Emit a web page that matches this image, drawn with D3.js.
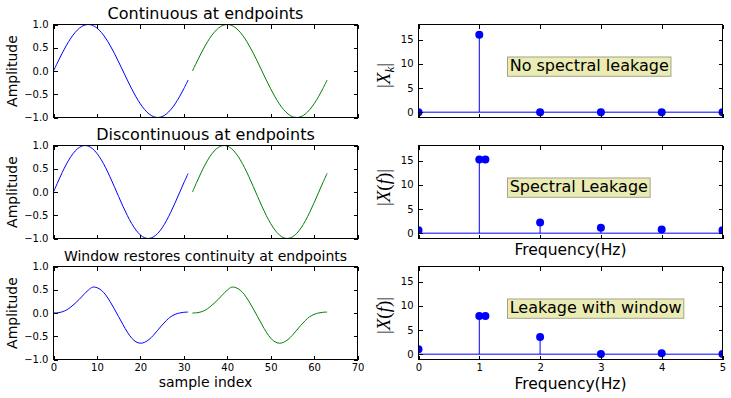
<!DOCTYPE html>
<html><head><meta charset="utf-8">
<script src="https://cdn.jsdelivr.net/npm/d3@7"></script>
<style>body{margin:0;background:#fff} svg{display:block}</style>
</head><body><svg id="c" width="731" height="398"></svg>
<script>
// ---------- data ----------
const sampleIdx = d3.range(32);          // sample index 0..31
const copyShift = 32;                    // second (green) copy starts at sample 32
const continuous = [0,0.195,0.383,0.556,0.707,0.831,0.924,0.981,1,0.981,0.924,0.831,0.707,0.556,0.383,0.195,
  0,-0.195,-0.383,-0.556,-0.707,-0.831,-0.924,-0.981,-1,-0.981,-0.924,-0.831,-0.707,-0.556,-0.383,-0.195];
const discontinuous = [0,0.214,0.419,0.604,0.761,0.882,0.962,0.998,0.988,0.931,0.831,0.693,0.523,0.327,0.117,-0.098,
  -0.309,-0.506,-0.678,-0.820,-0.924,-0.985,-0.999,-0.967,-0.891,-0.773,-0.619,-0.436,-0.233,-0.019,0.194,0.401];
const windowed = [0,0.005,0.025,0.065,0.13,0.21,0.30,0.40,0.49,0.555,0.545,0.49,0.39,0.25,0.09,-0.08,
  -0.25,-0.41,-0.54,-0.62,-0.65,-0.63,-0.57,-0.48,-0.37,-0.26,-0.16,-0.08,-0.03,0.0,0.015,0.02];

const freqBins = [0,1,2,3,4,5];
const magContinuous = [0,16,0,0,0,0];
const magDiscont = [0.6,15.2,2.2,1.1,0.75,0.6];
const magWindowed = [1.0,7.9,3.55,0.05,0.2,0.05];
const extraFreq = 1.1;
const extraDiscont = 15.2;
const extraWindowed = 7.9;

const leftXTicks = [0,10,20,30,40,50,60,70];
const leftYTicks = [-1,-0.5,0,0.5,1];
const rightXTicks = [0,1,2,3,4,5];
const rightYTicks = [0,5,10,15];

const titles = ["Continuous at endpoints","Discontinuous at endpoints","Window restores continuity at endpoints"];
const notes = ["No spectral leakage","Spectral Leakage","Leakage with window"];

// ---------- layout ----------
const svg = d3.select('#c');
const FONT = "'DejaVu Sans', sans-serif";
const MATH = "'Liberation Serif', 'DejaVu Serif', serif";
const leftX = [53.5,357.5], rightX = [418.5,722.5];
const rowsY = [[24.5,117.5],[145.5,238.5],[266.5,359.5]];
const BLUE = '#0000ff', GREEN = '#008000';

function axes(g, x, y, xt, yt, showX, yfmt, r0, r1, xr) {
  const bx = g.append('g').attr('transform',`translate(0,${r1})`)
    .call(d3.axisBottom(x).tickValues(xt).tickSizeInner(-4).tickSizeOuter(0).tickPadding(4)
      .tickFormat(showX ? d3.format('d') : ''));
  const tx = g.append('g').attr('transform',`translate(0,${r0})`)
    .call(d3.axisTop(x).tickValues(xt).tickSizeInner(-4).tickSizeOuter(0).tickFormat(''));
  const ly = g.append('g').attr('transform',`translate(${xr[0]},0)`)
    .call(d3.axisLeft(y).tickValues(yt).tickSizeInner(-4).tickSizeOuter(0).tickPadding(5).tickFormat(yfmt));
  const ry = g.append('g').attr('transform',`translate(${xr[1]},0)`)
    .call(d3.axisRight(y).tickValues(yt).tickSizeInner(-4).tickSizeOuter(0).tickFormat(''));
  [bx,tx,ly,ry].forEach(a=>{
    a.select('.domain').remove();
    a.selectAll('line').attr('stroke','#000').attr('shape-rendering','crispEdges');
    a.selectAll('text').attr('font-family',FONT).attr('font-size',10).attr('fill','#000');
  });
  g.append('rect').attr('x',xr[0]).attr('y',r0).attr('width',xr[1]-xr[0]).attr('height',r1-r0)
    .attr('fill','none').attr('stroke','#000').attr('stroke-width',1).attr('shape-rendering','crispEdges');
}

// ---------- left column ----------
const sigs = [continuous, discontinuous, windowed];
const titleSize = [16,16,14];
const titleBase = [19,140,261];
sigs.forEach((vals,row)=>{
  const [r0,r1] = rowsY[row];
  const g = svg.append('g');
  const x = d3.scaleLinear().domain([0,70]).range(leftX);
  const y = d3.scaleLinear().domain([-1,1]).range([r1,r0]);
  const clipId = 'cl'+row;
  g.append('clipPath').attr('id',clipId).append('rect')
    .attr('x',leftX[0]).attr('y',r0).attr('width',leftX[1]-leftX[0]).attr('height',r1-r0);
  const mk = (shift) => d3.line().x((d,i)=>x(sampleIdx[i]+shift)).y(d=>y(d)).curve(d3.curveCatmullRom);
  g.append('path').attr('d',mk(0)(vals)).attr('fill','none').attr('stroke',BLUE).attr('stroke-width',1)
    .attr('clip-path',`url(#${clipId})`);
  g.append('path').attr('d',mk(copyShift)(vals)).attr('fill','none').attr('stroke',GREEN).attr('stroke-width',1)
    .attr('clip-path',`url(#${clipId})`);
  axes(g, x, y, leftXTicks, leftYTicks, row===2, d3.format('.1f'), r0, r1, leftX);
  g.append('text').attr('x',(leftX[0]+leftX[1])/2).attr('y',titleBase[row]).attr('text-anchor','middle')
    .attr('font-family',FONT).attr('font-size',titleSize[row]).attr('fill','#000').text(titles[row]);
  g.append('text').attr('transform',`translate(16.5,${(r0+r1)/2}) rotate(-90)`).attr('text-anchor','middle')
    .attr('font-family',FONT).attr('font-size',14).attr('fill','#000').text('Amplitude');
});
svg.append('text').attr('x',(leftX[0]+leftX[1])/2).attr('y',386.5).attr('text-anchor','middle')
  .attr('font-family',FONT).attr('font-size',14).attr('fill','#000').text('sample index');

// ---------- right column ----------
const mags = [magContinuous, magDiscont, magWindowed];
const extras = [null, extraDiscont, extraWindowed];
const labelCenters = [75.5,187.5,315.5];
mags.forEach((vals,row)=>{
  const [r0,r1] = rowsY[row];
  const g = svg.append('g');
  const x = d3.scaleLinear().domain([0,5]).range(rightX);
  const y = d3.scaleLinear().domain([-1.1,18.1]).range([r1,r0]);
  const clipId = 'cr'+row;
  g.append('clipPath').attr('id',clipId).append('rect')
    .attr('x',rightX[0]).attr('y',r0).attr('width',rightX[1]-rightX[0]).attr('height',r1-r0);
  const p = g.append('g').attr('clip-path',`url(#${clipId})`);
  p.selectAll('circle.m').data(freqBins).join('circle').attr('class','m')
    .attr('cx',d=>x(d)).attr('cy',(d,i)=>y(vals[i])).attr('r',4).attr('fill',BLUE);
  if (extras[row] !== null) {
    p.append('circle').attr('cx',x(extraFreq)).attr('cy',y(extras[row])).attr('r',4).attr('fill',BLUE);
  }
  p.selectAll('line.s').data(freqBins).join('line').attr('class','s')
    .attr('x1',d=>x(d)).attr('x2',d=>x(d)).attr('y1',y(0)).attr('y2',(d,i)=>y(vals[i]))
    .attr('stroke',BLUE).attr('stroke-width',1);
  p.append('line').attr('x1',x(0)).attr('x2',x(5)).attr('y1',y(0)).attr('y2',y(0))
    .attr('stroke',BLUE).attr('stroke-width',1);
  axes(g, x, y, rightXTicks, rightYTicks, row===2, d3.format('d'), r0, r1, rightX);

  // annotation box
  const t = g.append('text').attr('x',x(1.5)).attr('y',y(8.4)).attr('font-family',FONT)
    .attr('font-size',16).attr('fill','#000').text(notes[row]);
  const bb = t.node().getBBox();
  g.insert('rect', () => t.node()).attr('x',bb.x-2.2).attr('y',y(8.4)-14.5)
    .attr('width',bb.width+4.4).attr('height',19.3)
    .attr('fill','#ebebb4').attr('stroke','#a3a38c').attr('stroke-width',1);

  // y label (math)
  const lab = g.append('text').attr('transform',`translate(390,${labelCenters[row]}) rotate(-90)`)
    .attr('text-anchor','middle').attr('font-family',MATH).attr('font-size',19).attr('fill','#000');
  lab.append('tspan').text('|');
  lab.append('tspan').attr('font-style','italic').text('X');
  if (row===0) {
    lab.append('tspan').attr('font-style','italic').attr('font-size',13).attr('dy',4).text('k');
    lab.append('tspan').attr('dy',-4).text('|');
  } else {
    lab.append('tspan').text('(');
    lab.append('tspan').attr('font-style','italic').text('f');
    lab.append('tspan').text(')|');
  }
  if (row>0) {
    g.append('text').attr('x',(rightX[0]+rightX[1])/2).attr('y',row===1?254.5:388.5).attr('text-anchor','middle')
      .attr('font-family',FONT).attr('font-size',15.5).attr('fill','#000').text('Frequency(Hz)');
  }
});
</script>
</body></html>
